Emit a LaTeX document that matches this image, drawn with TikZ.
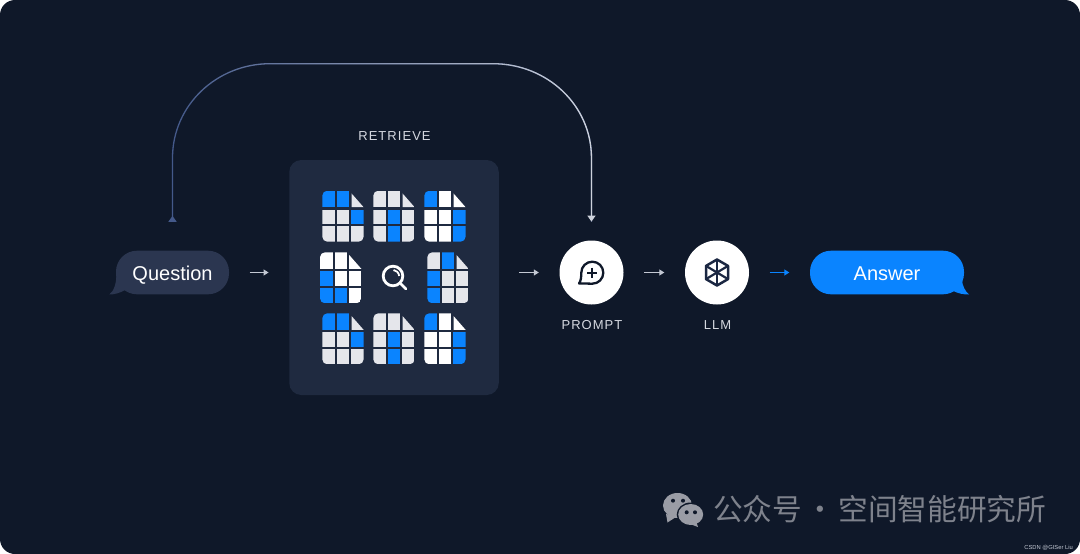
\documentclass[tikz,border=0pt]{standalone}
\usepackage{fontspec}
\setmainfont{Liberation Sans}
\newfontfamily\capsfont[LetterSpace=8]{Liberation Sans}
\newfontfamily\cjkfont{Noto Sans CJK SC}
\usetikzlibrary{arrows.meta,fadings}
\definecolor{bgdark}{HTML}{0F1829}
\definecolor{panelc}{HTML}{1F2A40}
\definecolor{askc}{HTML}{2B3650}
\definecolor{bluec}{HTML}{0A84FF}
\definecolor{grayc}{HTML}{E5E6EB}
\definecolor{linec}{HTML}{C3C8D3}
\definecolor{loopc}{HTML}{44598A}
\definecolor{iconc}{HTML}{1B2742}
\definecolor{markc}{HTML}{9A9CA5}
\tikzfading[name=loopfade,left color=transparent!100,middle color=transparent!65,right color=transparent!0]
\begin{document}
\begin{tikzpicture}[x=1pt,y=-1pt,
bubble/.style={%
minimum width=113pt,
minimum height=43.6pt,
rounded corners=21pt,
inner sep=0pt,
text height=15pt,
text depth=0pt,
font=\fontsize{20}{24}\selectfont,
},
hub/.style={%
circle,
fill=white,
minimum size=64pt,
inner sep=0pt,
},
strat/.style={%
anchor=base,
inner sep=0pt,
text=linec!70!white,
font=\capsfont\fontsize{13}{15}\selectfont,
},
flow/.style={%
-{Triangle[length=5pt,width=6pt]},
line width=1.1pt,
linec,
yshift=-0.8pt,
shorten <=20.5pt,
shorten >=20.5pt,
},
loopline/.style={%
line width=1.3pt,
shorten <=28.7pt,
shorten >=18.7pt,
},
]
\useasboundingbox (0,0) rectangle (1080,554);
\fill[white] (0,0) rectangle (1080,554);
\fill[bgdark,rounded corners=15pt] (0,0) rectangle (1080,554);
%% Panel
\node[fill=panelc,rounded corners=12pt,minimum width=209.5pt,minimum height=235pt,inner sep=0pt] (retr) at (394,277.5) {};
\node[strat] (retrl) at (394.5,140) {RETRIEVE};
%% Documents
\foreach \dx/\dy/\ca/\cb/\cc/\cd/\ce/\cf/\cg/\ch/\ci in {%
322.3/190.7/bluec/bluec/grayc/grayc/grayc/bluec/grayc/grayc/grayc,
373.3/190.7/grayc/grayc/grayc/grayc/bluec/grayc/grayc/bluec/grayc,
424.3/190.7/bluec/white/white/white/white/bluec/white/white/bluec,
320/252.3/white/white/white/bluec/white/white/bluec/bluec/white,
427.3/252.3/grayc/bluec/grayc/bluec/grayc/grayc/bluec/grayc/grayc,
322.3/313.3/bluec/bluec/grayc/grayc/grayc/bluec/grayc/grayc/grayc,
373.3/313.3/grayc/grayc/grayc/grayc/bluec/grayc/grayc/bluec/grayc,
424.3/313.3/bluec/white/white/white/white/bluec/white/white/bluec}{%
\begin{scope}[shift={(\dx,\dy)}]
\clip[rounded corners=5pt] (0,0) rectangle (41.3,51);
\fill[\ca] (0,0) rectangle (12.5,16.5);
\fill[\cb] (14.5,0) rectangle (27,16.5);
\fill[\cc] (29.2,2.7) -- (41.3,16.5) -- (29.2,16.5) -- cycle;
\fill[\cd] (0,19) rectangle (12.5,33.2);
\fill[\ce] (14.5,19) rectangle (27,33.2);
\fill[\cf] (29,19) rectangle (41.3,33.2);
\fill[\cg] (0,35.6) rectangle (12.5,51);
\fill[\ch] (14.5,35.6) rectangle (27,51);
\fill[\ci] (29,35.6) rectangle (41.3,51);
\end{scope}
}
%% Magnifier
\draw[white,line width=2.8pt] (393,276) circle[radius=9.8];
\draw[white,line width=1.8pt] (393.5,270) .. controls (396.5,270.5) and (398.7,272.5) .. (399.2,276);
\draw[white,line width=2.6pt,line cap=round] (401,284) -- (406,289);
%% Bubbles
\fill[askc] (116.5,272) .. controls (116.5,284) and (114,291) .. (109.3,294.5) .. controls (114,294.6) and (120,293) .. (125,290) -- (130,280) -- cycle;
\node[bubble,fill=askc,text=white] (question) at (172.5,272.5) {Question};
\fill[bluec] (962,280) .. controls (962.5,286) and (965,291) .. (969,294.5) .. controls (964,294.6) and (958,293.5) .. (953.3,291) -- (945,280) -- cycle;
\node[bubble,fill=bluec,text=white,minimum width=154pt] (answer) at (887,272.5) {Answer};
%% Prompt and LLM
\node[hub] (prompt) at (591.5,272.5) {};
\node[hub] (llm) at (717,272.5) {};
\node[strat] (promptl) at (592,329) {PROMPT};
\node[strat] (llml) at (717.5,329) {LLM};
\draw[bgdark,line width=2.3pt,line join=round] (579,283.4) .. controls (580.8,281.5) and (581.3,277) .. (581.3,272.7) .. controls (581.3,266.6) and (586.2,261.7) .. (592.3,261.7) .. controls (598.4,261.7) and (603.3,266.6) .. (603.3,272.7) .. controls (603.3,278.8) and (598.4,283.7) .. (592.3,283.7) -- cycle;
\draw[bgdark,line width=2.2pt] (592.3,267.7) -- (592.3,277.7) (587.3,272.7) -- (597.3,272.7);
\draw[iconc,line width=2.5pt,line join=round] (717,259.5) -- (728,265.9) -- (728,279.1) -- (717,285.5) -- (706,279.1) -- (706,265.9) -- cycle;
\foreach \hx/\hy in {717/259.5,728/265.9,728/279.1,717/285.5,706/279.1,706/265.9}{%
\draw[iconc,line width=2.2pt] (717,272.5) -- (\hx,\hy);
}
%% Flow
\draw[flow] (question) -- (question -| retr.west);
\draw[flow] (retr.east |- prompt) -- (prompt);
\draw[flow] (prompt) -- (llm);
\draw[flow,bluec] (llm) -- (answer);
%% Way round the panel
\coordinate (la) at (172.5,158);
\coordinate (lb) at (270,63.7);
\coordinate (lc) at (493,63.7);
\coordinate (ld) at (591.5,158);
\draw[loopline,loopc,{Triangle[reversed,length=6pt,width=8pt]}-] (question.north) -- (la) .. controls (172.5,105) and (217,63.7) .. (lb) -- (lc) .. controls (547,63.7) and (591.5,105) .. (ld) -- (prompt.north);
\draw[loopline,linec!80!white,path fading=loopfade,-{Triangle[length=6pt,width=8pt]}] (question.north) -- (la) .. controls (172.5,105) and (217,63.7) .. (lb) -- (lc) .. controls (547,63.7) and (591.5,105) .. (ld) -- (prompt.north);
%% Watermark
\fill[markc] (677.5,505.5) ellipse[x radius=14.5,y radius=12.5];
\fill[markc] (666,514) -- (667.5,522.5) -- (676,517) -- cycle;
\fill[bgdark] (690.7,514.5) ellipse[x radius=14,y radius=12];
\fill[markc] (690.7,514.5) ellipse[x radius=12.5,y radius=10.5];
\fill[markc] (696,521) -- (698,527) -- (690,524) -- cycle;
\foreach \ex/\ey in {673/500.7,683/500.7,686.7/512.3,695/512.3}{%
\fill[bgdark] (\ex,\ey) circle[radius=2];
}
\node[anchor=base west,inner sep=0pt,text=markc!80!bgdark,font=\cjkfont\fontsize{29.7}{34}\selectfont] (mark) at (713,520.5) {\spaceskip=3.2pt 公众号 · 空间智能研究所};
\node[anchor=base east,inner sep=0pt,text=linec,font=\fontsize{5.8}{7}\selectfont] (csdn) at (1073,549.5) {CSDN @GISer Liu};
\end{tikzpicture}
\end{document}
